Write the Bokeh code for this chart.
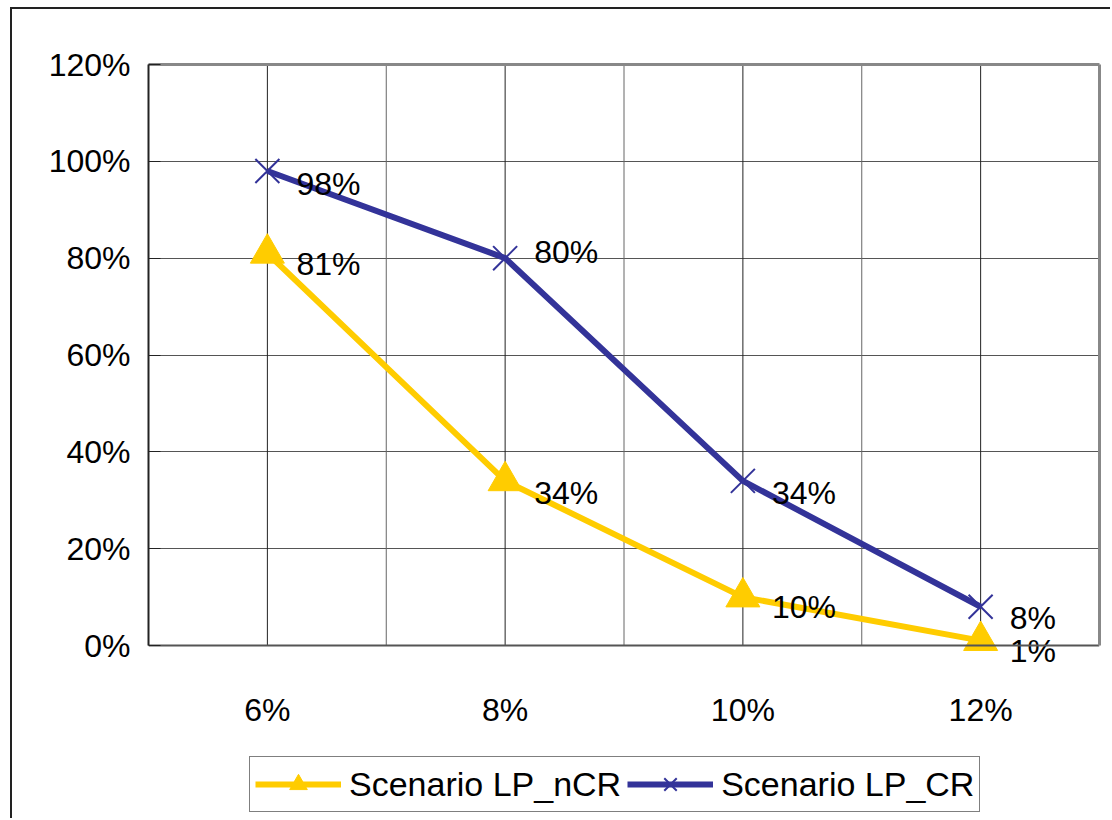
from bokeh.plotting import figure
from bokeh.models import (FactorRange, Range1d, PrintfTickFormatter, FixedTicker,
                          Legend, LegendItem, LinearAxis, CategoricalAxis)
from bokeh.core.properties import value
from bokeh.embed import file_html
from bokeh.resources import INLINE

# Discount-rate scenarios and the share of outcomes for each scenario (percent)
categories = ["6%", "8%", "10%", "12%"]
lp_ncr = [81, 34, 10, 1]
lp_cr = [98, 80, 34, 8]
y_ticks = [0, 20, 40, 60, 80, 100, 120]

FONT = "Liberation Sans"
YELLOW = "#FFCC00"
NAVY = "#333399"

# Canvas geometry (the host element carries a thin frame on its left/top edge)
W, H = 1100, 811
LEFT, TOP, RIGHT = 136, 55, 13
PLOT_H = 581                      # pixel height of the 0..120 band
extra = (H - TOP - PLOT_H) / PLOT_H * y_ticks[-1]   # room below 0 for labels/legend

p = figure(width=W, height=H, output_backend="svg", toolbar_location=None,
           x_range=FactorRange(*categories, range_padding=0),
           y_range=Range1d(-extra, y_ticks[-1]),
           x_axis_location=None,
           min_border_left=LEFT, min_border_right=RIGHT,
           min_border_top=TOP, min_border_bottom=0)
p.margin = (7, 0, 0, 10)
p.styles = {"border-left": "2px solid #222222", "border-top": "2px solid #222222"}
p.background_fill_color = "white"
p.border_fill_color = "white"
p.outline_line_color = None
p.xgrid.visible = False

# Horizontal grid
p.ygrid.ticker = FixedTicker(ticks=y_ticks[1:])
p.ygrid.grid_line_color = "#555555"
p.ygrid.grid_line_width = 1
p.ygrid.bounds = (y_ticks[0], y_ticks[-1])

# Vertical grid: category centres and category boundaries, limited to the value band
p.segment(x0=categories, x1=categories, y0=y_ticks[0], y1=y_ticks[-1],
          line_color="#222222", line_width=1)
bounds_x = list(range(1, len(categories)))
p.segment(x0=bounds_x, x1=bounds_x, y0=y_ticks[0], y1=y_ticks[-1],
          line_color="#666666", line_width=1)

# Left value axis
p.yaxis.ticker = FixedTicker(ticks=y_ticks)
p.yaxis.formatter = PrintfTickFormatter(format="%d%%")
p.yaxis.bounds = (y_ticks[0], y_ticks[-1])
p.yaxis.axis_line_color = "#222222"
p.yaxis.axis_line_width = 2
p.yaxis.major_tick_in = 12
p.yaxis.major_tick_out = 0
p.yaxis.major_tick_line_color = "#222222"
p.yaxis.minor_tick_line_color = None
p.yaxis.major_label_standoff = 18
p.yaxis.major_label_text_font = FONT
p.yaxis.major_label_text_font_size = "32px"
p.yaxis.major_label_text_color = "black"

# Right and top edges of the plot area (plain lines, no ticks or labels)
right_ax = LinearAxis(bounds=(y_ticks[0], y_ticks[-1]), ticker=FixedTicker(ticks=[]),
                      axis_line_color="#888888", axis_line_width=3,
                      major_tick_line_color=None, minor_tick_line_color=None,
                      major_label_standoff=0)
p.add_layout(right_ax, "right")
top_ax = CategoricalAxis(ticker=FixedTicker(ticks=[]),
                         axis_line_color="#888888", axis_line_width=3,
                         major_tick_line_color=None, minor_tick_line_color=None,
                         major_label_standoff=0)
p.add_layout(top_ax, "above")

# Category axis sitting on the zero line
x_ax = CategoricalAxis(fixed_location=0, axis_line_color="#555555", axis_line_width=2,
                       major_tick_in=0, major_tick_out=0, minor_tick_line_color=None,
                       major_label_standoff=46, major_label_text_font=FONT,
                       major_label_text_font_size="32px", major_label_text_color="black")
p.add_layout(x_ax, "below")

# Series
l1 = p.line(categories, lp_ncr, line_color=YELLOW, line_width=6)
m1 = p.scatter(categories, lp_ncr, marker="triangle", size=34,
               fill_color=YELLOW, line_color=YELLOW)
l2 = p.line(categories, lp_cr, line_color=NAVY, line_width=6)
m2 = p.scatter(categories, lp_cr, marker="x", size=34, line_color=NAVY,
               line_width=2)

# Value labels (pixel nudges per label)
ncr_dy = [11, 12, 10, 10]
cr_dy = [13, -6, 12, 11]
for vals, dy in ((lp_ncr, ncr_dy), (lp_cr, cr_dy)):
    p.text(categories, vals, text=[f"{v}%" for v in vals],
           x_offset=29, y_offset=dy, text_baseline="middle", text_align="left",
           text_font=value(FONT), text_font_size="32px", text_color="black")

legend = Legend(items=[LegendItem(label="Scenario LP_nCR", renderers=[l1, m1]),
                       LegendItem(label="Scenario LP_CR", renderers=[l2, m2])],
                orientation="horizontal", location=(101, 8))
legend.label_text_font = FONT
legend.label_text_font_size = "34px"
legend.label_text_color = "black"
legend.glyph_width = 86
legend.glyph_height = 44
legend.label_standoff = 8
legend.spacing = 6
legend.padding = 5
legend.margin = 0
legend.border_line_color = "black"
legend.border_line_width = 1
legend.background_fill_color = "white"
p.add_layout(legend, "center")

open("out.html", "w").write(file_html(p, INLINE))
